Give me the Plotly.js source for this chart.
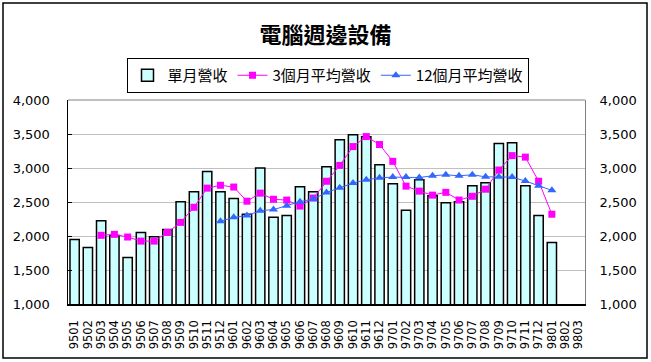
<!DOCTYPE html>
<html>
<head>
<meta charset="utf-8">
<script src="https://cdn.plot.ly/plotly-3.0.1.min.js"></script>
<style>
html,body{margin:0;padding:0;background:#fff;}
#chart{width:651px;height:362px;}
</style>
</head>
<body>
<div id="chart"></div>
<script>
var categories = ["9501","9502","9503","9504","9505","9506","9507","9508","9509","9510","9511","9512",
  "9601","9602","9603","9604","9605","9606","9607","9608","9609","9610","9611","9612",
  "9701","9702","9703","9704","9705","9706","9707","9708","9709","9710","9711","9712",
  "9801","9802","9803"];

var monthly = [1948,1830,2226,2006,1684,2050,1990,2094,2505,2650,2950,2650,
  2550,2320,3000,2275,2300,2725,2650,3020,3414,3490,3460,3047,
  2770,2378,2827,2593,2490,2505,2740,2784,3360,3370,2740,2300,
  1904,null,null];

var avg3 = [null,null,2010,2024,1985,1925,1925,2052,2200,2422,2704,2746,
  2720,2512,2630,2540,2528,2440,2558,2805,3038,3315,3462,3345,
  3098,2733,2660,2601,2642,2529,2584,2688,2970,3182,3160,2806,
  2320,null,null];

var avg12 = [null,null,null,null,null,null,null,null,null,null,null,2216,
  2275,2300,2373,2388,2446,2505,2543,2638,2710,2778,2827,2856,
  2866,2866,2860,2886,2900,2886,2900,2870,2870,2866,2808,2740,
  2671,null,null];

var names = ["單月營收","3個月平均營收","12個月平均營收"];
var chartTitle = "電腦週邊設備";

var baseFont = "DejaVu Sans, Noto Sans CJK TC, sans-serif";
var cjkFont = "Noto Sans CJK TC, DejaVu Sans, sans-serif";

var traces = [
  {type:"bar", x:categories, y:monthly, name:names[0],
   marker:{color:"#CCFFFF", line:{color:"#000000", width:1.5}}},
  {type:"scatter", mode:"lines+markers", x:categories, y:avg3, name:names[1],
   line:{color:"#FF00FF", width:1}, marker:{symbol:"square", size:7, color:"#FF00FF"},
   connectgaps:false},
  {type:"scatter", mode:"lines+markers", x:categories, y:avg12, name:names[2],
   line:{color:"#3366FF", width:1}, marker:{symbol:"triangle-up", size:8, color:"#3366FF"},
   connectgaps:false},
  {type:"scatter", mode:"lines", x:categories, y:monthly.map(function(){return null;}),
   yaxis:"y2", showlegend:false, hoverinfo:"skip"}
];

var L = 68, R = 585, T = 100, B = 304, W = 651, H = 362;
function px(x){return (x-L)/(R-L);}
function py(y){return (B-y)/(B-T);}

var layout = {
  width:W, height:H,
  margin:{l:L, r:W-R, t:T, b:H-B, pad:0},
  paper_bgcolor:"#ffffff", plot_bgcolor:"#ffffff",
  font:{family:baseFont, size:13, color:"#000"},
  title:{text:"<b>"+chartTitle+"</b>", font:{family:cjkFont, size:22, color:"#000"},
    x:0.5, xref:"container", y:1-35/H, yref:"container", yanchor:"middle"},
  bargap:0.3,
  showlegend:true,
  legend:{orientation:"h", x:px(327.5), xanchor:"center", y:py(58), yanchor:"top",
    bordercolor:"#000", borderwidth:1, font:{family:cjkFont, size:15, color:"#000"},
    itemwidth:30, tracegroupgap:0, bgcolor:"#fff"},
  xaxis:{type:"category", categoryorder:"array", categoryarray:categories,
    range:[-0.5, categories.length-0.5], tickangle:-90, tickmode:"linear", tick0:0, dtick:1,
    tickfont:{family:baseFont, size:11.5}, showline:true, linecolor:"#000", linewidth:1.5,
    ticks:"", showgrid:false, zeroline:false, fixedrange:true, ticklabelstandoff:10},
  yaxis:{range:[1000,4000], dtick:500, tickformat:",d", showgrid:true, gridcolor:"#C0C0C0",
    gridwidth:1, showline:true, linecolor:"#000", linewidth:1.5, ticks:"inside", ticklen:4,
    tickcolor:"#000", tickfont:{family:baseFont, size:13}, zeroline:false, ticklabelstandoff:14},
  yaxis2:{overlaying:"y", side:"right", range:[1000,4000], dtick:500, tickformat:",d",
    showgrid:false, showline:true, linecolor:"#808080", linewidth:1, ticks:"",
    tickfont:{family:baseFont, size:13}, zeroline:false, ticklabelstandoff:11},
  shapes:[
    {type:"line", xref:"paper", yref:"paper", x0:0, x1:1, y0:1, y1:1,
     line:{color:"#808080", width:1}},
    {type:"rect", xref:"paper", yref:"paper", x0:px(3), x1:px(647), y0:py(358), y1:py(3),
     line:{color:"#000", width:1.5}, fillcolor:"rgba(0,0,0,0)", layer:"below"}
  ]
};

Plotly.newPlot("chart", traces, layout, {displayModeBar:false, staticPlot:true});
</script>
</body>
</html>
